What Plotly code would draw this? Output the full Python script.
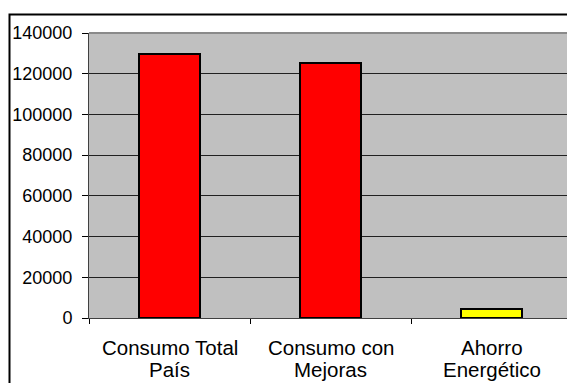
import plotly.graph_objects as go

# Energy consumption comparison
categories = ["Consumo Total<br>País", "Consumo con<br>Mejoras", "Ahorro<br>Energético"]
values = [129600, 125300, 4300]
bar_colors = ["#FF0000", "#FF0000", "#FFFF00"]
y_ticks = [0, 20000, 40000, 60000, 80000, 100000, 120000, 140000]

W, H = 567, 383
L, R, T, B = 89, 0, 33, 65
plot_w = W - L - R
plot_h = H - T - B

fig = go.Figure(
    go.Bar(
        x=categories,
        y=values,
        width=0.385,
        marker=dict(color=bar_colors, line=dict(color="black", width=2)),
        hoverinfo="skip",
    )
)

# outer chart frame (runs past the right and bottom edges of the page)
fx0 = (9.5 - L) / plot_w
fy1 = 1 + (T - 14.5) / plot_h
fig.add_shape(type="rect", xref="paper", yref="paper",
              x0=fx0, x1=1.2, y0=-0.5, y1=fy1,
              line=dict(color="black", width=2), layer="above")
# plot-area top border
fig.add_shape(type="line", xref="paper", yref="paper",
              x0=0, x1=1, y0=1, y1=1,
              line=dict(color="#8A8A8A", width=2), layer="above")

# category labels, one annotation per line for tighter line spacing
line_px = [348, 369]
for cat in categories:
    for i, part in enumerate(cat.split("<br>")):
        fig.add_annotation(
            x=cat, xref="x", y=-(line_px[i] - (H - B)) / plot_h, yref="paper",
            text=part, showarrow=False, xanchor="center", yanchor="middle",
            font=dict(size=20.5, color="black"),
        )

fig.update_layout(
    width=W, height=H,
    margin=dict(l=L, r=R, t=T, b=B, pad=0),
    paper_bgcolor="white",
    plot_bgcolor="#C0C0C0",
    showlegend=False,
    font=dict(family="Liberation Sans, Arial, sans-serif", color="black"),
    bargap=0,
)
fig.update_xaxes(
    type="category",
    categoryorder="array",
    categoryarray=categories,
    range=[-0.5, -0.5 + plot_w / 161.0],
    tickson="boundaries",
    ticks="outside", ticklen=5, tickcolor="black", tickwidth=1,
    showline=True, linecolor="#404040", linewidth=1,
    showgrid=False, zeroline=False,
    showticklabels=False,
    fixedrange=True,
)
fig.update_yaxes(
    range=[0, 140000],
    tickmode="array",
    tickvals=y_ticks,
    ticktext=[str(v) for v in y_ticks],
    ticks="outside", ticklen=6, tickcolor="black", tickwidth=1,
    showline=True, linecolor="#404040", linewidth=1,
    showgrid=True, gridcolor="#202020", gridwidth=1,
    zeroline=False,
    tickfont=dict(size=18),
    ticklabelstandoff=6,
    fixedrange=True,
)

fig.write_html("out.html", config={"displayModeBar": False})
